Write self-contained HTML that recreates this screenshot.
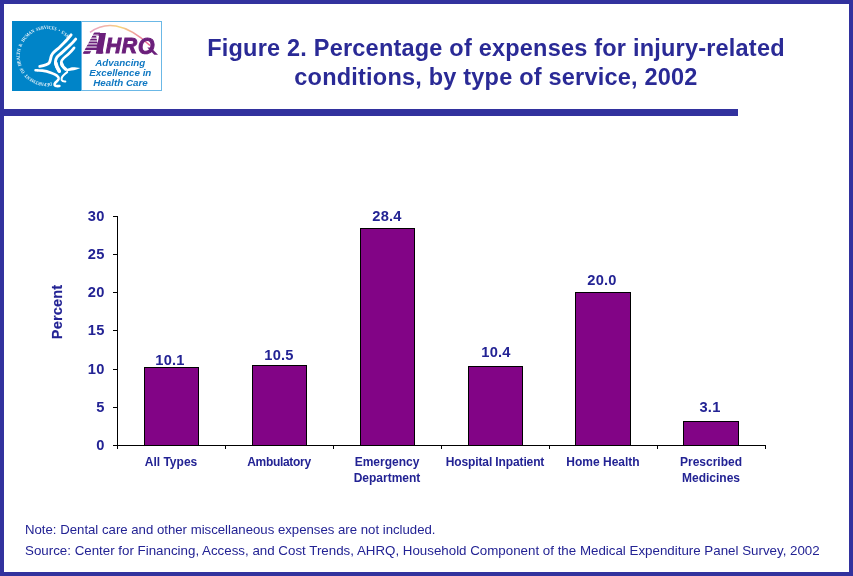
<!DOCTYPE html>
<html><head><meta charset="utf-8"><title>Figure 2</title>
<style>
html,body{margin:0;padding:0;}
body{width:853px;height:576px;position:relative;overflow:hidden;background:#fff;font-family:"Liberation Sans",Arial,sans-serif;color:#232394;}
.frame{position:absolute;left:0;top:0;width:845px;height:568px;border:4px solid #32329e;}
.rule{position:absolute;left:0;top:109px;width:738px;height:7px;background:#32329e;}
.title{position:absolute;left:146px;width:700px;text-align:center;font-weight:bold;font-size:23.5px;letter-spacing:0.21px;white-space:nowrap;color:#2a2a96;}
.t1{top:34px;line-height:29px;}
.t2{top:63px;line-height:29px;}
.foot{position:absolute;left:25px;white-space:nowrap;color:#232394;line-height:16px;}
.ax{position:absolute;background:#000;}
.bar{position:absolute;background:#820486;border:1px solid #000;box-sizing:border-box;width:55px;}
.yl{position:absolute;width:30px;left:75px;text-align:right;font-weight:bold;font-size:14.67px;line-height:16px;letter-spacing:0.5px;}
.dl{position:absolute;width:108px;text-align:center;font-weight:bold;font-size:14.67px;line-height:16px;letter-spacing:0.25px;}
.cl{position:absolute;width:128px;text-align:center;font-weight:bold;font-size:12px;line-height:16px;top:454px;}
.pct{position:absolute;left:56.5px;top:312px;width:0;height:0;}
.pct span{position:absolute;display:block;width:80px;left:-40px;top:-8px;line-height:16px;text-align:center;font-weight:bold;font-size:14.6px;letter-spacing:0.1px;-webkit-text-stroke:0.15px #232394;transform:rotate(-90deg);}
</style></head><body>
<div class="frame"></div>
<div class="rule"></div>
<svg id="logo" style="position:absolute;left:12px;top:21px;" width="150" height="70" viewBox="12 21 150 70">
<defs>
<linearGradient id="arcg" x1="90" y1="0" x2="150" y2="0" gradientUnits="userSpaceOnUse">
<stop offset="0" stop-color="#e9a0c8"/><stop offset="0.3" stop-color="#f2b7a0"/><stop offset="0.5" stop-color="#f6d878"/><stop offset="0.75" stop-color="#f0a0a0"/><stop offset="1" stop-color="#e85e8a"/>
</linearGradient>
<path id="circ" d="M51.72,82.55 A27.0,27.0 0 1 1 66.86,37.93"/>
</defs>
<rect x="12" y="21" width="69" height="70" fill="#0084c8"/>
<rect x="81.5" y="21.5" width="80" height="69" fill="#fff" stroke="#6bb8e6" stroke-width="1"/>
<text font-family="'Liberation Serif',serif" font-weight="bold" font-size="4.8" fill="#fff" fill-opacity="0.92" word-spacing="1.2"><textPath href="#circ" textLength="112.4" lengthAdjust="spacingAndGlyphs">DEPARTMENT OF HEALTH &amp; HUMAN SERVICES • USA</textPath></text>
<g fill="none" stroke="#fff" stroke-linecap="round" stroke-linejoin="round">
<path stroke-width="2.9" d="M71.1,34.9 C69,37.5 68,38.8 66.4,40.4 C63.5,43.3 61.5,45.5 59.1,47.7 C56.5,50 54.3,51.6 52.8,53.4 C51.3,55.2 51.1,56.6 50.75,58.1 C50.3,60 50.1,61.6 49.2,62.8 C47.8,64.6 44,65.6 39.8,66.4"/>
<path stroke-width="2.9" d="M75.7,39.1 C73.5,41.8 71.5,43.8 69.5,45.6 C67,47.9 64.5,50.3 62.2,52.4 C60,54.4 58,55.7 57,57.1 C55.6,59 55.5,60.7 55.4,62.3 C55.3,63.9 56,65.4 56.5,66.5 C57.2,68.3 58.6,70.2 59.6,71.5"/>
<path stroke-width="2.6" d="M74.1,47.9 C72.5,50 70.4,52.2 68.5,54 C66.6,55.8 64.6,57.2 63.25,58.6 C62,59.9 61.3,61 61.2,62.3 C61.1,63.7 61.5,64.9 62.2,65.9 C63,67.1 64,68.4 65.3,69.1"/>
<path stroke-width="3.6" d="M56,63.4 C56.2,65.6 57.4,68.2 59,70.8"/>
<path stroke-width="3" d="M61.8,63.6 C62.2,65.6 63.6,67.6 65.6,69"/>
<path stroke-width="2.6" d="M35.6,70.2 C38,70.3 40.2,70.4 42.4,70.6 C45.5,71 48.2,71.7 50.75,72.7 C53.3,73.7 55.6,74.6 57,75.8 C58.2,76.8 58.8,77.9 58.6,79 C58.3,80.4 56.5,81.5 55.4,82.6 C54.7,83.4 54.4,84.3 54.6,85 C55,86 57,86.3 59.4,86"/>
<path stroke-width="2.1" d="M67.2,71.9 C65.5,73.6 63.4,75.2 62.2,76.9 C61.5,78 61.3,79.1 61.7,80 C62.3,81.2 63.8,81.6 65.3,81.5"/>
</g>
<path d="M64.6,68.2 C67,69.4 69,68.6 70.8,67.6 C73.5,66.6 76,67.6 80.4,68 C77,69.6 74.5,70 72,70.6 C69,71.4 66,71 64.3,70 Z" fill="#fff"/>
<path d="M34.2,70 L38,69 L38,71.4 Z" fill="#fff"/>
<path d="M90,32.3 C98,26.5 108,24.6 116,26 C130,28.5 142,38 150,45.5" fill="none" stroke="url(#arcg)" stroke-width="1.5"/>
<g fill="#6b1f7b" stroke="#6b1f7b" font-family="'Liberation Sans',sans-serif" font-weight="bold" font-style="italic">
<text x="84" y="53.4" font-size="29.2" stroke-width="0.8">A</text>
<text x="105.8" y="53.3" font-size="21.2" stroke-width="1" letter-spacing="0.75">HRQ</text>
</g>
<rect x="138" y="54.3" width="16" height="4.8" fill="#fff"/>
<polygon points="147.3,47.5 150.8,47.5 158,54.7 154.3,54.7" fill="#6b1f7b"/>
<polygon points="94,32.9 106,32.9 102.3,53.8 83.3,53.8" fill="#6b1f7b"/>
<polygon points="91.6,50 96.4,50 95.8,54 89.6,54" fill="#fff"/>
<polygon points="96.2,36 99,36 97.6,43.4" fill="#fff"/>
<g stroke="#fff" stroke-width="1">
<line x1="82" y1="35.15" x2="98.6" y2="35.15"/><line x1="82" y1="38.15" x2="98.1" y2="38.15"/><line x1="82" y1="41" x2="97.7" y2="41"/><line x1="82" y1="43.9" x2="97.2" y2="43.9"/><line x1="82" y1="47" x2="96.7" y2="47"/><line x1="82" y1="50.65" x2="96.2" y2="50.65"/>
</g>
<g font-family="'Liberation Sans',sans-serif" font-weight="bold" font-style="italic" font-size="9.8" fill="#1078c2" text-anchor="middle">
<text x="120.3" y="66.1">Advancing</text>
<text x="120.3" y="76">Excellence in</text>
<text x="120.5" y="85.8">Health Care</text>
</g>
</svg>
<div class="title t1">Figure 2. Percentage of expenses for injury-related</div>
<div class="title t2">conditions, by type of service, 2002</div>

<!-- axes -->
<div class="ax" style="left:117px;top:216px;width:1px;height:230px;"></div>
<div class="ax" style="left:113px;top:445px;width:653px;height:1px;"></div>
<!-- y ticks -->
<div class="ax" style="left:113px;top:216px;width:4px;height:1px;"></div>
<div class="ax" style="left:113px;top:254px;width:4px;height:1px;"></div>
<div class="ax" style="left:113px;top:292px;width:4px;height:1px;"></div>
<div class="ax" style="left:113px;top:330px;width:4px;height:1px;"></div>
<div class="ax" style="left:113px;top:369px;width:4px;height:1px;"></div>
<div class="ax" style="left:113px;top:407px;width:4px;height:1px;"></div>
<!-- x ticks -->
<div class="ax" style="left:117px;top:445px;width:1px;height:4px;"></div>
<div class="ax" style="left:225px;top:445px;width:1px;height:4px;"></div>
<div class="ax" style="left:333px;top:445px;width:1px;height:4px;"></div>
<div class="ax" style="left:441px;top:445px;width:1px;height:4px;"></div>
<div class="ax" style="left:549px;top:445px;width:1px;height:4px;"></div>
<div class="ax" style="left:657px;top:445px;width:1px;height:4px;"></div>
<div class="ax" style="left:765px;top:445px;width:1px;height:4px;"></div>
<!-- y labels -->
<div class="yl" id="yl1" style="top:208px;">30</div>
<div class="yl" id="yl2" style="top:246px;">25</div>
<div class="yl" id="yl3" style="top:284px;">20</div>
<div class="yl" id="yl4" style="top:322px;">15</div>
<div class="yl" id="yl5" style="top:361px;">10</div>
<div class="yl" id="yl6" style="top:399px;">5</div>
<div class="yl" id="yl7" style="top:437px;">0</div>
<div class="pct"><span>Percent</span></div>
<!-- bars -->
<div class="bar" style="left:144px;top:367px;width:55px;height:79px;"></div>
<div class="bar" style="left:252px;top:365px;width:55px;height:81px;"></div>
<div class="bar" style="left:360px;top:228px;width:55px;height:218px;"></div>
<div class="bar" style="left:468px;top:366px;width:55px;height:80px;"></div>
<div class="bar" style="left:575px;top:292px;width:56px;height:154px;"></div>
<div class="bar" style="left:683px;top:421px;width:56px;height:25px;"></div>
<!-- data labels -->
<div class="dl" id="dl1" style="left:116px;top:352px;">10.1</div>
<div class="dl" id="dl2" style="left:225px;top:347px;">10.5</div>
<div class="dl" id="dl3" style="left:333px;top:208px;">28.4</div>
<div class="dl" id="dl4" style="left:442px;top:344px;">10.4</div>
<div class="dl" id="dl5" style="left:548px;top:272px;">20.0</div>
<div class="dl" id="dl6" style="left:656px;top:399px;">3.1</div>
<!-- category labels -->
<div class="cl" id="cl1" style="left:107px;">All Types</div>
<div class="cl" id="cl2" style="left:215px;letter-spacing:-0.3px;">Ambulatory</div>
<div class="cl" id="cl3" style="left:323px;">Emergency<br>Department</div>
<div class="cl" id="cl4" style="left:431px;letter-spacing:-0.12px;">Hospital Inpatient</div>
<div class="cl" id="cl5" style="left:539px;">Home Health</div>
<div class="cl" id="cl6" style="left:647px;">Prescribed<br>Medicines</div>

<div class="foot" style="top:522px;font-size:13.2px;">Note: Dental care and other miscellaneous expenses are not included.</div>
<div class="foot" style="top:543px;font-size:13.33px;">Source: Center for Financing, Access, and Cost Trends, AHRQ, Household Component of the Medical Expenditure Panel Survey, 2002</div>
</body></html>
